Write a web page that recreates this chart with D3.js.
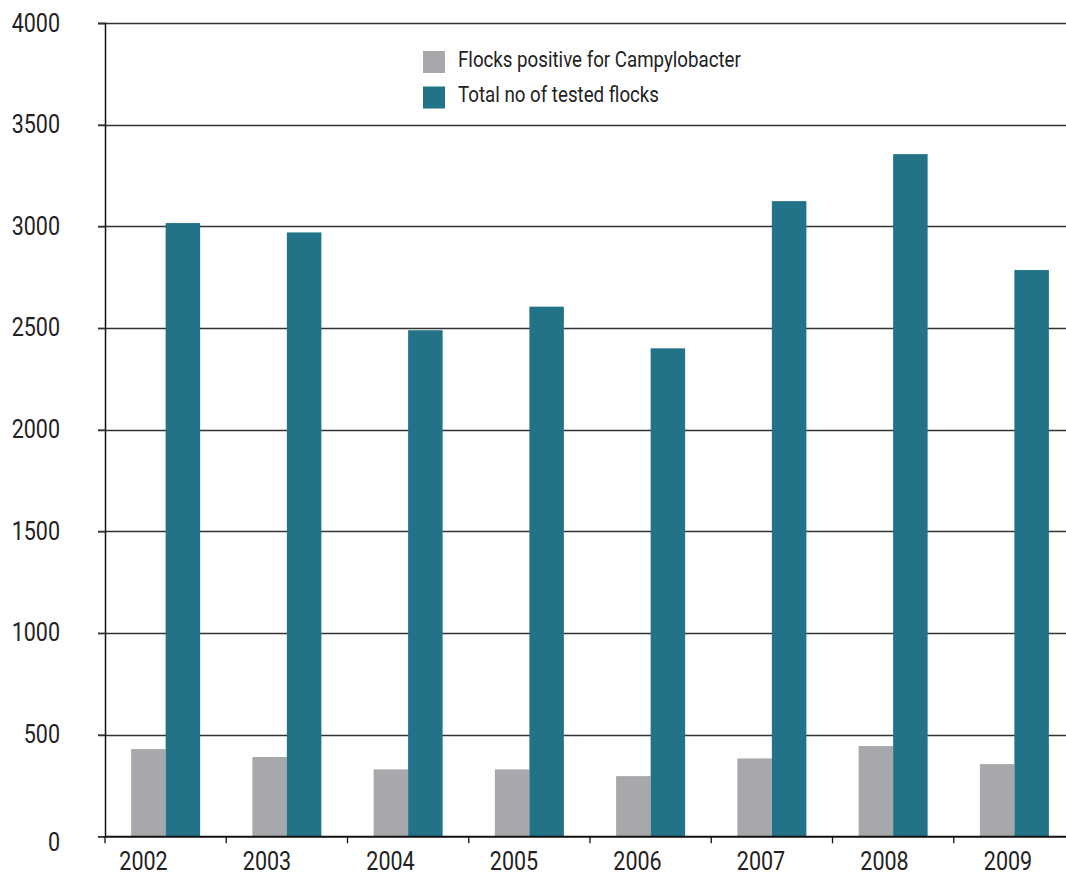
<!DOCTYPE html>
<html>
<head>
<meta charset="utf-8">
<script src="https://cdn.jsdelivr.net/npm/d3@7"></script>
<style>
  body { margin: 0; background: #fff; }
  text { font-family: Roboto, "DejaVu Sans Condensed", sans-serif; fill: #222; }
</style>
</head>
<body>
<svg id="chart" width="1066" height="876"></svg>
<script>
// data
const years = ['2002', '2003', '2004', '2005', '2006', '2007', '2008', '2009'];
const positive = [429, 390, 329, 329, 296, 383, 444, 355];
const tested = [3016, 2970, 2489, 2605, 2400, 3124, 3355, 2785];
const seriesNames = ['Flocks positive for Campylobacter', 'Total no of tested flocks'];
const yTicks = [0, 500, 1000, 1500, 2000, 2500, 3000, 3500, 4000];

const colors = ['#a7a8ab', '#227387'];
const fontStack = 'Roboto, "DejaVu Sans Condensed", sans-serif';

const svg = d3.select('#chart');

// plot area
const plotLeft = 105;
const plotTop = 23;
const plotBottom = 836.3;
const plotRight = 1075;

const yScale = d3.scaleLinear()
  .domain([0, 4000])
  .range([plotBottom, plotTop]);

const xScale = d3.scaleBand()
  .domain(years)
  .range([plotLeft, plotRight]);

// the year labels in the original sit on their own, slightly wider spacing
const labelScale = d3.scalePoint()
  .domain(years)
  .range([143, 1007.5]);

const bw = xScale.bandwidth();
const subScale = d3.scaleBand()
  .domain(seriesNames)
  .range([bw / 2 - 34.5, bw / 2 + 34.5]);

// squeeze text horizontally to mimic the condensed face
function condense(sel, ratio) {
  sel.each(function () {
    const w = this.getComputedTextLength();
    d3.select(this)
      .attr('textLength', w * ratio)
      .attr('lengthAdjust', 'spacingAndGlyphs');
  });
}

// gridlines
svg.append('g')
  .selectAll('line')
  .data(yTicks.filter(d => d > 0))
  .enter()
  .append('line')
  .attr('x1', plotLeft - 7)
  .attr('x2', 1066)
  .attr('y1', d => Math.round(yScale(d)) + 0.5)
  .attr('y2', d => Math.round(yScale(d)) + 0.5)
  .attr('stroke', '#333')
  .attr('stroke-width', 1.4);

// bars
const rows = years.map((y, i) => ({ year: y, values: [positive[i], tested[i]] }));

const groups = svg.append('g')
  .selectAll('g')
  .data(rows)
  .enter()
  .append('g')
  .attr('transform', d => `translate(${xScale(d.year)},0)`);

groups.selectAll('rect')
  .data(d => d.values.map((v, k) => ({ name: seriesNames[k], value: v, k: k })))
  .enter()
  .append('rect')
  .attr('x', d => subScale(d.name))
  .attr('y', d => yScale(d.value))
  .attr('width', subScale.bandwidth())
  .attr('height', d => plotBottom - yScale(d.value))
  .attr('fill', d => colors[d.k]);

// y axis
const yAxis = svg.append('g')
  .attr('transform', `translate(${plotLeft},0)`)
  .call(d3.axisLeft(yScale).tickValues(yTicks).tickSize(7).tickPadding(38).tickFormat(d3.format('d')));
yAxis.select('.domain').attr('stroke', '#111').attr('stroke-width', 1.5);
yAxis.selectAll('.tick line').attr('stroke', '#333').attr('stroke-width', 1.4);
yAxis.selectAll('.tick text')
  .attr('font-size', 25)
  .attr('fill', '#222')
  .attr('y', d => d === 0 ? 6 : 0)
  .style('font-family', fontStack)
  .call(condense, 0.86);

// x axis line and band ticks
const xAxis = svg.append('g')
  .attr('transform', `translate(0,${plotBottom})`)
  .call(d3.axisBottom(xScale).tickSize(0).tickFormat(''));
xAxis.select('.domain').attr('stroke', '#111').attr('stroke-width', 2);

svg.append('g')
  .selectAll('line')
  .data(years)
  .enter()
  .append('line')
  .attr('x1', d => xScale(d))
  .attr('x2', d => xScale(d))
  .attr('y1', plotBottom)
  .attr('y2', plotBottom + 7)
  .attr('stroke', '#111')
  .attr('stroke-width', 1.3);

// year labels
const xLabels = svg.append('g')
  .attr('transform', `translate(0,${plotBottom})`)
  .call(d3.axisBottom(labelScale).tickSize(0).tickPadding(0));
xLabels.select('.domain').remove();
xLabels.selectAll('.tick text')
  .attr('y', 34)
  .attr('dy', 0)
  .attr('font-size', 25)
  .attr('fill', '#222')
  .style('font-family', fontStack)
  .call(condense, 0.86);

// legend
const legend = svg.append('g')
  .attr('transform', 'translate(423,51)');

const items = legend.selectAll('g')
  .data(seriesNames)
  .enter()
  .append('g')
  .attr('transform', (d, i) => `translate(0,${i * 35.5})`);

items.append('rect')
  .attr('width', 22)
  .attr('height', 22)
  .attr('fill', (d, i) => colors[i]);

items.append('text')
  .attr('x', 35)
  .attr('y', 15.5)
  .attr('font-size', 21.5)
  .text(d => d)
  .call(condense, 0.87);
</script>
</body>
</html>
